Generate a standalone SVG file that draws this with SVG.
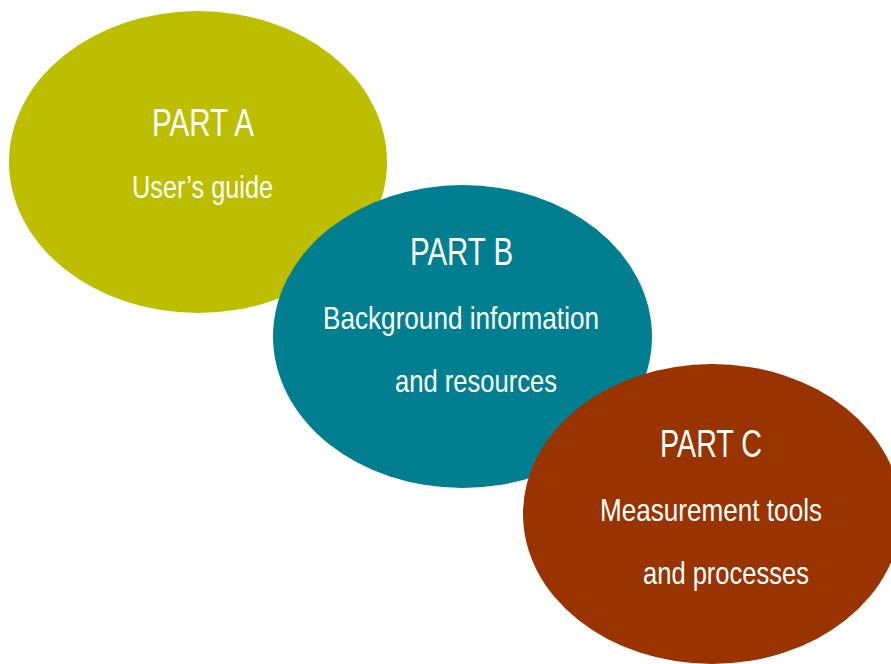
<svg xmlns="http://www.w3.org/2000/svg" width="891" height="664" viewBox="0 0 891 664">
<style>
.t{font-family:"Liberation Sans",Arial,sans-serif;fill:#ffffff;text-anchor:middle}
.h{font-size:38px}
.s{font-size:32px}
</style>
<rect width="891" height="664" fill="#ffffff"/>
<g id="partA">
<ellipse cx="198" cy="162" rx="189" ry="151" fill="#BDBE00"/>
<text class="t h" x="203" y="136" textLength="102" lengthAdjust="spacingAndGlyphs">PART A</text>
<text class="t s" x="202.5" y="198" textLength="141" lengthAdjust="spacingAndGlyphs">User’s guide</text>
</g>
<g id="partB">
<ellipse cx="462.5" cy="336.5" rx="189.5" ry="151.5" fill="#017F91"/>
<text class="t h" x="461.5" y="265" textLength="103" lengthAdjust="spacingAndGlyphs">PART B</text>
<text class="t s" x="461" y="329" textLength="276" lengthAdjust="spacingAndGlyphs">Background information</text>
<text class="t s" x="476" y="392" textLength="162" lengthAdjust="spacingAndGlyphs">and resources</text>
</g>
<g id="partC">
<ellipse cx="712" cy="514" rx="189" ry="150" fill="#993300"/>
<text class="t h" x="711" y="457" textLength="102" lengthAdjust="spacingAndGlyphs">PART C</text>
<text class="t s" x="711" y="521" textLength="222" lengthAdjust="spacingAndGlyphs">Measurement tools</text>
<text class="t s" x="726" y="584" textLength="166" lengthAdjust="spacingAndGlyphs">and processes</text>
</g>
<g id="connectors"></g>
</svg>
